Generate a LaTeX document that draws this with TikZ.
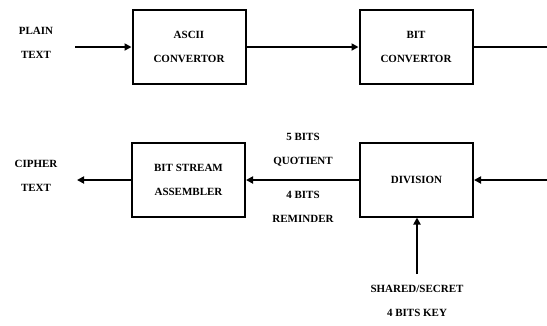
\documentclass[tikz,border=0pt]{standalone}
\usepackage{fontspec}
\setmainfont{Liberation Serif}
\usetikzlibrary{arrows.meta}
\begin{document}
\begin{tikzpicture}[x=1pt,y=-1pt,
  blk/.style={draw, line width=2pt, minimum width=113pt, minimum height=74pt, inner sep=0pt, align=center, font=\fontsize{11}{24}\selectfont\bfseries},
  lbl/.style={align=center, inner sep=0pt, font=\fontsize{11}{24}\selectfont\bfseries},
  conn/.style={line width=1.8pt},
  arr/.style={conn, -{Triangle[length=7pt,width=7pt]}}]
\useasboundingbox (0,0) rectangle (547,325);
\node[blk] (ascii) at (189,46.5) {ASCII\\CONVERTOR};
\node[blk] (bitc) at (416,46.5) {BIT\\CONVERTOR};
\node[blk] (bsa) at (188.5,179.5) {BIT STREAM\\ASSEMBLER};
\node[blk] (div) at (416.5,179.5) {DIVISION};
\node[lbl] (plain) at (36,42.5) {PLAIN\\TEXT};
\node[lbl] (cipher) at (36,175.5) {CIPHER\\TEXT};
\node[lbl] (q) at (303,150) {5 BITS\\QUOTIENT};
\node[lbl] (r) at (303,206.5) {4 BITS\\REMINDER};
\node[lbl] (key) at (417,301) {SHARED/SECRET\\4 BITS KEY};
\coordinate (pin) at (75,47);
\coordinate (cout) at (77,180);
\coordinate (bout) at (547,47);
\coordinate (din) at (547,180);
\coordinate (kin) at (417,274);
\draw[arr] (pin) -- (ascii.west |- pin);
\draw[arr] (ascii.east |- pin) -- (bitc.west |- pin);
\draw[conn] (bitc.east |- bout) -- (bout);
\draw[arr] (din) -- (div.east |- din);
\draw[arr] (div.west |- din) -- (bsa.east |- din);
\draw[arr] (bsa.west |- cout) -- (cout);
\draw[arr] (kin) -- (div.south -| kin);
\end{tikzpicture}
\end{document}
